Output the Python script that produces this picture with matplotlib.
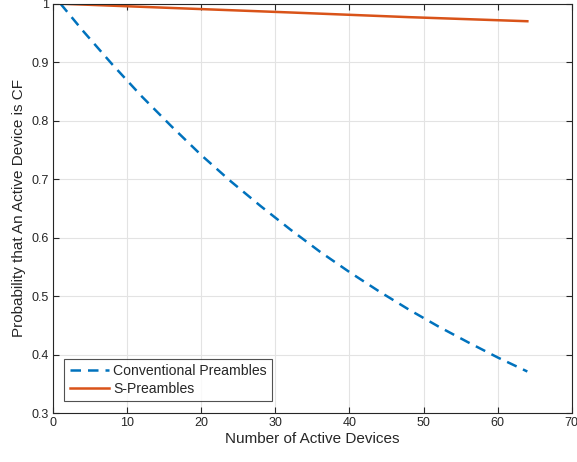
import numpy as np
import matplotlib.pyplot as plt

# values
n_conv = [1, 4, 8, 12, 16, 20, 24, 28, 32, 36, 40, 44, 48, 52, 56, 60, 64]
p_conv = [1.0, 0.954, 0.896, 0.841, 0.790, 0.741, 0.696, 0.654, 0.614,
          0.576, 0.541, 0.508, 0.477, 0.448, 0.421, 0.395, 0.371]
n_s = [1, 16, 32, 48, 64]
p_s = [1.0, 0.9927, 0.985, 0.977, 0.970]

xticks = [0, 10, 20, 30, 40, 50, 60, 70]
yticks = [0.3, 0.4, 0.5, 0.6, 0.7, 0.8, 0.9, 1.0]
ytick_labels = ['0.3', '0.4', '0.5', '0.6', '0.7', '0.8', '0.9', '1']

plt.rcParams['font.family'] = ['Liberation Sans', 'DejaVu Sans']

fig = plt.figure(figsize=(5.77, 4.62), dpi=100)
ax = fig.add_axes([0.092, 0.106, 0.899, 0.886])

ax.plot(n_conv, p_conv, color='#0072BD', lw=1.8, linestyle=(0, (4.2, 2.8)),
        label='Conventional Preambles')
ax.plot(n_s, p_s, color='#D95319', lw=1.8, label='S-Preambles')

ax.set_xlim(0, 70)
ax.set_ylim(0.3, 1.0)
ax.set_xticks(xticks)
ax.set_yticks(yticks)
ax.set_yticklabels(ytick_labels)
ax.grid(True, color='#e3e3e3', lw=0.8)
ax.set_axisbelow(True)
ax.tick_params(direction='in', top=True, right=True, length=4, width=0.8,
               labelsize=9, colors='#262626', pad=3)
for s in ax.spines.values():
    s.set_color('#262626')
    s.set_linewidth(0.8)

ax.set_xlabel('Number of Active Devices', fontsize=11, color='#262626', labelpad=2)
ax.set_ylabel('Probability that An Active Device is CF', fontsize=11,
              color='#262626', labelpad=4)

leg = ax.legend(loc='lower left', bbox_to_anchor=(0.013, 0.018), fontsize=10.1,
                frameon=True, fancybox=False, edgecolor='#262626',
                borderpad=0.4, labelspacing=0.25, handlelength=2.8,
                handletextpad=0.3, borderaxespad=0.3)
leg.get_frame().set_linewidth(0.8)
for t in leg.get_texts():
    t.set_color('#262626')

fig.savefig('out.png', dpi=100)
